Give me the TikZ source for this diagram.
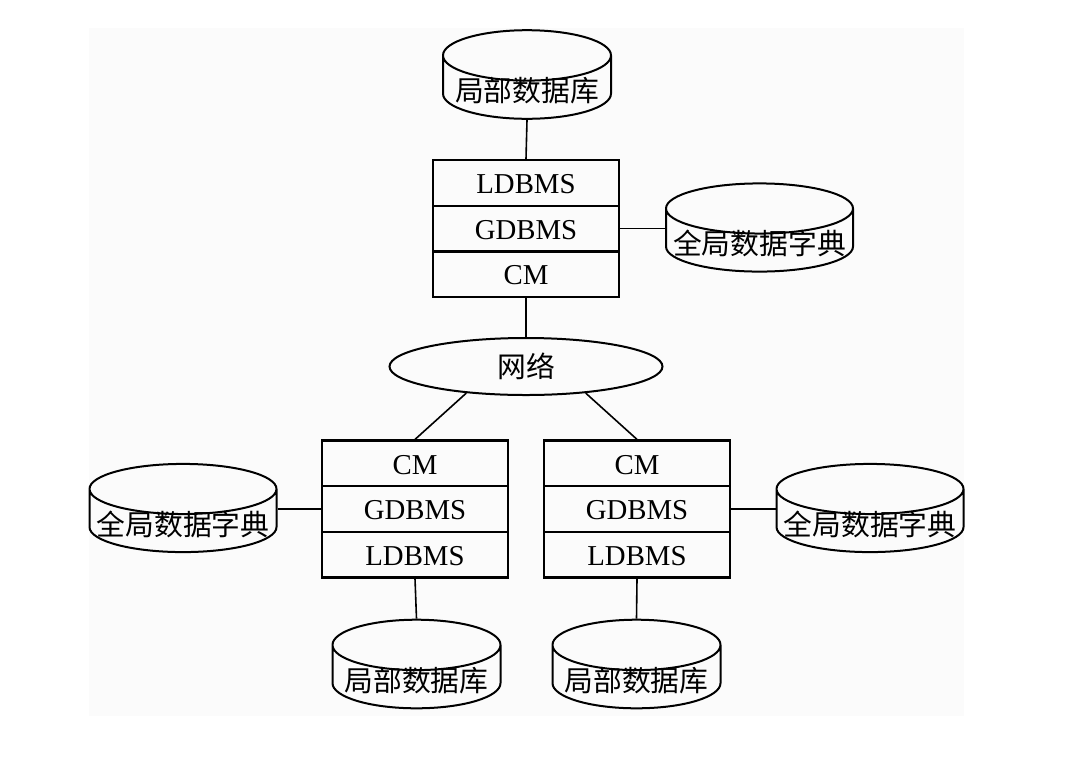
\documentclass[tikz,border=0pt]{standalone}
\usepackage{fontspec}
\setmainfont{Liberation Serif}
\newfontfamily\cjk{Noto Sans CJK SC}
\usetikzlibrary{shapes.geometric,shapes.multipart,positioning}
\tikzstyle{dbmsblock} = [draw, line width=1.2pt, rectangle split, rectangle split parts=3, minimum width=93pt, inner ysep=0pt, align=center, font=\fontsize{14.4}{15}\selectfont]
\tikzstyle{dbblock} = [draw, line width=1pt, cylinder, shape border rotate=90, aspect=0.35, minimum width=84pt, minimum height=44pt, text height=6pt, text depth=0pt, font=\cjk\fontsize{14.4}{15}\selectfont, inner sep=0pt, anchor=shape center]
\tikzstyle{dictblock} = [dbblock, minimum width=93.5pt, aspect=0.29]
\tikzstyle{netblock} = [draw, line width=1pt, ellipse, minimum width=136.5pt, minimum height=28.5pt, font=\cjk\fontsize{14.4}{15}\selectfont]
\tikzstyle{line} = [draw, line width=0.8pt]
\newcommand{\row}[1]{\rule[-5.5pt]{0pt}{21.6pt}#1}
\newcommand{\dbmsblock}[4]{node (b#1) [dbmsblock] {\row{#2}\nodepart{second}\row{#3}\nodepart{third}\row{#4}}}
\newcommand{\dbblock}[1]{node (d#1) [dbblock] {\raisebox{-4pt}{局部数据库}}}
\newcommand{\dictblock}[1]{node (g#1) [dictblock] {\raisebox{-4pt}{全局数据字典}}}

\begin{document}
\begin{tikzpicture}[x=0.5pt,y=-0.5pt]
\useasboundingbox (0,0) rectangle (1070,756);
\fill[black!1.5] (89,28) rectangle (964,716);
\path (526,228.5) \dbmsblock{1}{LDBMS}{GDBMS}{CM};
\path (b1)+(1,-154) \dbblock{1};
\path (b1)+(233.5,-1) \dictblock{1};
\path (b1)+(0,138) node (net) [netblock] {网络};
\path (net)+(-111,142.5) \dbmsblock{2}{CM}{GDBMS}{LDBMS};
\path (net)+(111,142.5) \dbmsblock{3}{CM}{GDBMS}{LDBMS};
\path (b2)+(-232,-1) \dictblock{2};
\path (b3)+(233,-1) \dictblock{3};
\path (b2)+(1.5,155) \dbblock{2};
\path (b3)+(-0.5,155) \dbblock{3};

\path [line] (d1.south) -- (b1.north);
\path [line] (b1.east) -- (b1.east -| g1.west);
\path [line] (b1.south) -- (net.north);
\path [line] (net.-156) -- (b2.north);
\path [line] (net.-24) -- (b3.north);
\path [line] (b2.west -| g2.east) -- (b2.west);
\path [line] (b3.east) -- (b3.east -| g3.west);
\path [line] (b2.south) -- (d2.north);
\path [line] (b3.south) -- (d3.north);
\end{tikzpicture}
\end{document}
